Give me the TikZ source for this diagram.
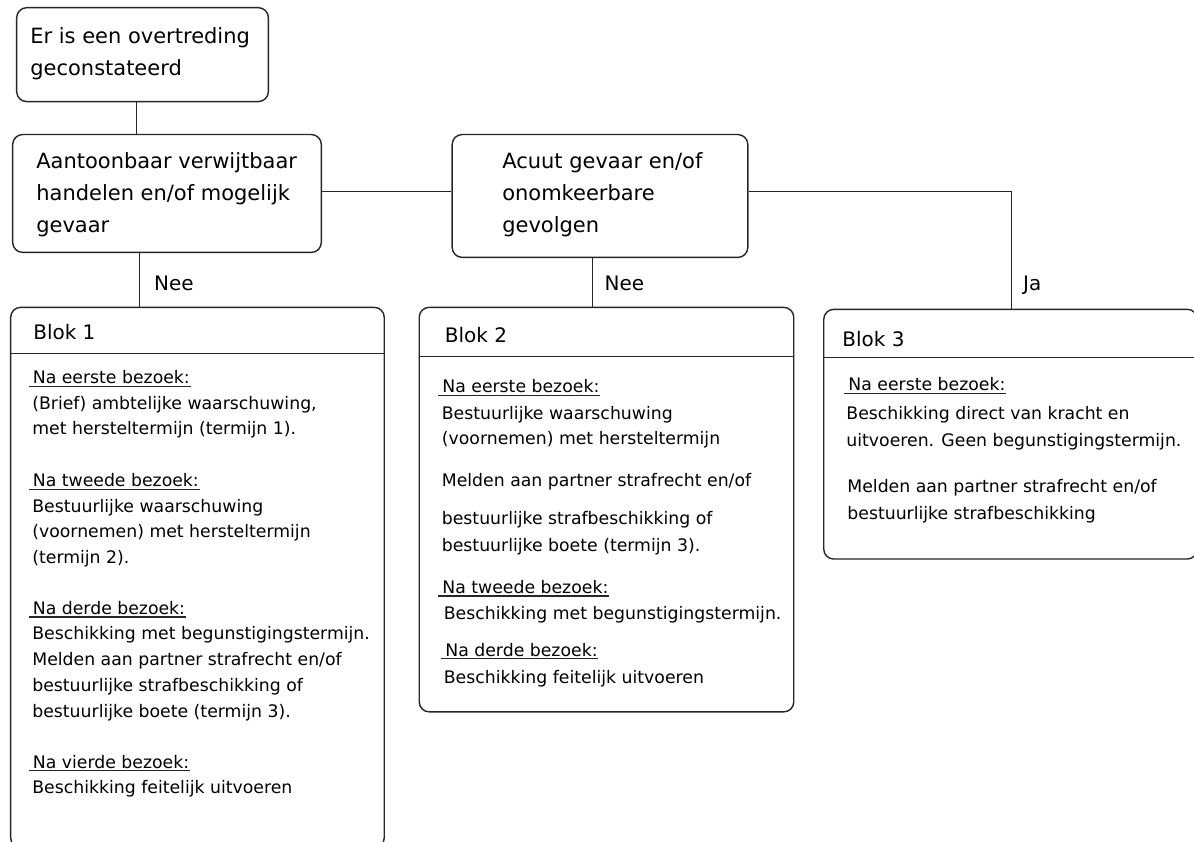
\documentclass[tikz,border=0pt]{standalone}
\usepackage{fontspec}
\setmainfont{DejaVu Sans}
\usetikzlibrary{fit}
\begin{document}
\begin{tikzpicture}[x=1pt,y=-1pt,
  line width=1.4pt,
  every path/.style={draw=black!85},
  box/.style={draw=black!85, line width=1.4pt, rounded corners=10pt, inner sep=0pt},
  ttl/.style={inner sep=0pt, anchor=base west, font=\fontsize{21}{24}\selectfont},
  hdr/.style={inner sep=0pt, anchor=base west, font=\fontsize{20}{24}\selectfont},
  lbl/.style={inner sep=0pt, anchor=base west, font=\fontsize{20}{24}\selectfont},
  body/.style={inner sep=0pt, anchor=base west, font=\fontsize{17.3}{20}\selectfont},
  ul/.style={draw=black!85, line width=1.1pt}
]
\useasboundingbox (0,0) rectangle (1194,841);
\fill[white] (0,0) rectangle (1194,841);

% boxes
\node[box, fit={(16,7) (268,101)}] (A) {};
\node[box, fit={(12,134) (321,252)}] (B) {};
\node[box, fit={(452,134) (748,257)}] (C) {};
\node[box, fit={(10,307) (384,848)}] (blok1) {};
\node[box, fit={(419,307) (794,712)}] (blok2) {};
\node[box, fit={(824,309) (1198,559)}] (blok3) {};

% header separators
\coordinate (h1) at (0,353);
\coordinate (h2) at (0,356);
\coordinate (h3) at (0,357);
\draw (blok1.west |- h1) -- (blok1.east |- h1);
\draw (blok2.west |- h2) -- (blok2.east |- h2);
\draw (blok3.west |- h3) -- (blok3.east |- h3);

% connector helpers
\coordinate (xa) at (136,0);
\coordinate (xb) at (139,0);
\coordinate (xc) at (592.5,0);
\coordinate (xd) at (1012,0);
\coordinate (ym) at (0,191);

\draw (A.south -| xa) -- (B.north -| xa);
\draw (B.south -| xb) -- (blok1.north -| xb);
\draw (B.east |- ym) -- (C.west |- ym);
\draw (C.south -| xc) -- (blok2.north -| xc);
\draw (C.east |- ym) -| (blok3.north -| xd);

% labels
\node[lbl] (nee1) at (153,290) {Nee};
\node[lbl] (nee2) at (604,290) {Nee};
\node[lbl] (ja) at (1023,290) {Ja};

% titles
\node[ttl] (A1) at (29,43) {Er is een overtreding};
\node[ttl] (A2) at (29,75) {geconstateerd};
\node[ttl] (B1) at (35,168) {Aantoonbaar verwijtbaar};
\node[ttl] (B2) at (35,200) {handelen en/of mogelijk};
\node[ttl] (B3) at (35,232) {gevaar};
\node[ttl] (C1) at (501.5,168) {Acuut gevaar en/of};
\node[ttl] (C2) at (501.5,200) {onomkeerbare};
\node[ttl] (C3) at (501.5,232) {gevolgen};

% block headers
\node[hdr] (bh1) at (32,339) {Blok 1};
\node[hdr] (bh2) at (444,342) {Blok 2};
\node[hdr] (bh3) at (842,346.5) {Blok 3};

% underlined headings
\foreach \n/\x/\y/\t in {
  u11/31.5/383.5/{Na eerste bezoek:},
  u12/31.5/486.5/{Na tweede bezoek:},
  u13/31.5/614.5/{Na derde bezoek:},
  u14/31.5/768.5/{Na vierde bezoek:},
  u21/441.5/392.5/{Na eerste bezoek:},
  u22/441.5/593.5/{Na tweede bezoek:},
  u23/444.5/656.5/{Na derde bezoek:},
  u31/848/390.5/{Na eerste bezoek:}}{
  \node[body] (\n) at (\x,\y) {\t};
  \draw[ul] ([xshift=-3.5pt,yshift=-2.5pt]\n.base west) -- ([yshift=-2.5pt]\n.base east);
}

% body lines
\foreach \n/\x/\y/\t in {
  t11/31/409.5/{(Brief) ambtelijke waarschuwing,},
  t12/31/434.5/{met hersteltermijn (termijn 1).},
  t13/31/512.5/{Bestuurlijke waarschuwing},
  t14/31/537.5/{(voornemen) met hersteltermijn},
  t15/31/563.5/{(termijn 2).},
  t16/31/639.5/{Beschikking met begunstigingstermijn.},
  t17/31/665.5/{Melden aan partner strafrecht en/of},
  t18/31/691.5/{bestuurlijke strafbeschikking of},
  t19/31/717.5/{bestuurlijke boete (termijn 3).},
  t1a/31/793.5/{Beschikking feitelijk uitvoeren},
  t21/441/419.5/{Bestuurlijke waarschuwing},
  t22/441/444.5/{(voornemen) met hersteltermijn},
  t23/441/486.5/{Melden aan partner strafrecht en/of},
  t24/441/524.5/{bestuurlijke strafbeschikking of},
  t25/441/551.5/{bestuurlijke boete (termijn 3).},
  t26/443/619.5/{Beschikking met begunstigingstermijn.},
  t27/443/683.5/{Beschikking feitelijk uitvoeren},
  t31/846/419/{Beschikking direct van kracht en},
  t32/846/446/{uitvoeren. Geen begunstigingstermijn.},
  t33/847/492.5/{Melden aan partner strafrecht en/of},
  t34/847/519/{bestuurlijke strafbeschikking}}{
  \node[body] (\n) at (\x,\y) {\t};
}
\end{tikzpicture}
\end{document}
